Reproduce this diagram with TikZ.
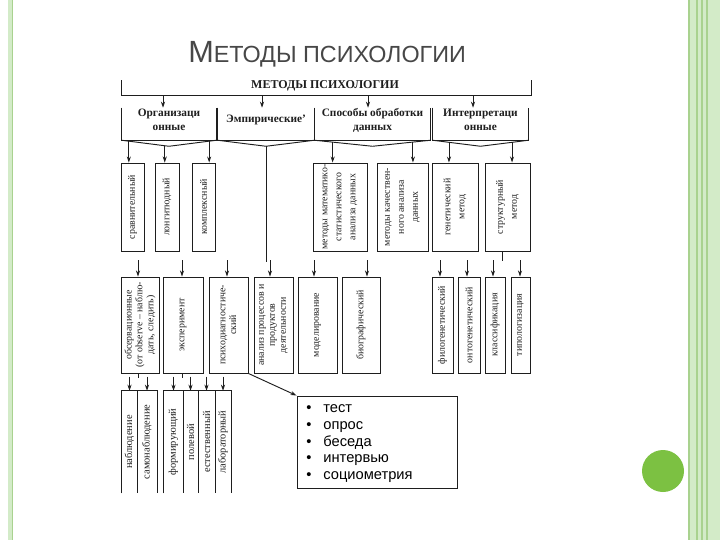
\documentclass[tikz,border=0pt]{standalone}
\usepackage{fontspec}
\setmainfont{Liberation Serif}
\newfontfamily\arialf{Liberation Sans}
\usetikzlibrary{arrows.meta,calc,fit}
\definecolor{lgreen}{HTML}{D3EBC8}
\definecolor{mgreen}{HTML}{A9D28F}
\definecolor{dot}{HTML}{7CC142}
\definecolor{ink}{HTML}{1E1E1E}
\newcommand{\rbox}[7]{\node[bx, fit={(#3,#4) (#5,#6)}, label={[#2]center:{#7}}] (#1) {};}
\newcommand{\obox}[7]{\node[fr, fit={(#3,#4) (#5,#6)}, label={[#2]center:{#7}}] (#1) {};}
\tikzset{
  ln/.style={line width=0.7pt, draw=ink},
  arr/.style={ln, -{Stealth[length=4.5pt,width=3pt]}},
  bx/.style={ln, draw, inner sep=0pt},
  fr/.style={inner sep=0pt},
  rtwo/.style={rotate=90, align=center, inner sep=0pt, text=ink, font=\fontsize{7.4}{10.5}\selectfont},
  rthr/.style={rotate=90, align=center, inner sep=0pt, text=ink, font=\fontsize{7.4}{8.2}\selectfont},
  rfour/.style={rotate=90, align=center, inner sep=0pt, text=ink, font=\fontsize{7.8}{9}\selectfont},
  cat/.style={fr, align=center, text=ink, font=\bfseries\fontsize{8.5}{8.5}\selectfont}
}
\begin{document}
\begin{tikzpicture}[x=0.75pt,y=-0.75pt]
\useasboundingbox (0,0) rectangle (720,540);
\fill[white] (0,0) rectangle (720,540);
% slide decoration
\fill[lgreen] (8,0) rectangle (12,540);
\draw[mgreen, line width=0.6pt] (12,0) -- (12,540);
\fill[lgreen] (689,0) rectangle (720,540);
\draw[mgreen, line width=0.8pt] (689,0) -- (689,540);
\draw[mgreen, line width=0.8pt] (697,0) -- (697,540);
\draw[mgreen, line width=0.8pt] (702,0) -- (702,540);
\draw[mgreen, line width=0.8pt] (707,0) -- (707,540);
\fill[dot] (663,471) circle (21);
% title
\node[anchor=base west, inner sep=0pt, text=black!72, font=\arialf] (title) at (188,62)
  {{\fontsize{23}{23}\selectfont М}{\fontsize{17.5}{17.5}\selectfont ЕТОДЫ ПСИХОЛОГИИ}};
% header
\node[text=ink, font=\bfseries\fontsize{9}{9}\selectfont, inner sep=0pt] (hdr) at (325,86) {МЕТОДЫ ПСИХОЛОГИИ};
\coordinate (hl) at (121,80);
\coordinate (hr) at (531,80);
\draw[ln] (hl) -- ++(0,15) -| (hr);
% row 1
\node[cat, fit={(122,108) (216,140)}] (r1a) {Организаци\\[2pt]онные};
\node[cat, fit={(218,108) (314,140)}] (r1b) {Эмпирические'};
\node[cat, fit={(315,108) (430,140)}] (r1c) {Способы обработки\\[2pt]данных};
\node[cat, fit={(433,108) (528,140)}] (r1d) {Интерпретаци\\[2pt]онные};
\foreach \b in {r1a,r1b,r1c,r1d}{
  \draw[ln] (\b.north west) -- (\b.south west) -- (\b.south east) -- (\b.north east);
  \coordinate (v\b) at ($(\b.south)+(0,6)$);
  \draw[ln] (\b.south west) -- (v\b) -- (\b.south east);
}
\coordinate (ha) at (163,95);
\coordinate (hb) at (262,95);
\coordinate (hc) at (368,95);
\coordinate (hd) at (473,95);
\draw[arr] (ha) -- (ha |- r1a.north);
\draw[arr] (hb) -- (hb |- r1b.north);
\draw[arr] (hc) -- (hc |- r1c.north);
\draw[arr] (hd) -- (hd |- r1d.north);
% row 2
\rbox{r2a}{rtwo}{121}{163}{144}{251}{сравнительный}
\rbox{r2b}{rtwo}{155}{163}{179}{251}{лонгитюдный}
\rbox{r2c}{rtwo}{192}{163}{215}{251}{комплексный}
\rbox{r2d}{rtwo}{313}{163}{367}{251}{методы математико-\\статистического\\анализа данных}
\rbox{r2e}{rtwo}{377}{163}{428}{251}{методы качествен-\\ного анализа\\данных}
\rbox{r2f}{rtwo}{432}{163}{478}{251}{генетический\\метод}
\rbox{r2g}{rtwo}{485}{163}{530}{251}{структурный\\метод}
\draw[arr] ($(r1a.south west)!0.15!(vr1a)$) coordinate (s1) -- (s1 |- r2a.north);
\draw[arr] ($(r1a.south west)!0.91!(vr1a)$) coordinate (s2) -- (s2 |- r2b.north);
\draw[arr] ($(r1a.south east)!0.15!(vr1a)$) coordinate (s3) -- (s3 |- r2c.north);
\draw[arr] ($(r1c.south west)!0.31!(vr1c)$) coordinate (s4) -- (s4 |- r2d.north);
\draw[arr] ($(r1c.south east)!0.30!(vr1c)$) coordinate (s5) -- (s5 |- r2e.north);
\draw[arr] ($(r1d.south west)!0.34!(vr1d)$) coordinate (s6) -- (s6 |- r2f.north);
\draw[arr] ($(r1d.south east)!0.34!(vr1d)$) coordinate (s7) -- (s7 |- r2g.north);
\coordinate (emp) at (266,262);
\draw[ln] (vr1b) -- (vr1b |- emp);
\coordinate (sg) at (502,261);
\draw[ln] (sg |- r2g.south) -- (sg);
% row 3
\rbox{r3a}{rthr}{121}{277}{159}{373}{обсервационные\\(от observe – наблю-\\дать, следить)}
\rbox{r3b}{rthr}{163}{277}{203}{373}{эксперимент}
\rbox{r3c}{rthr}{209}{277}{248}{373}{психодиагностиче-\\ский}
\rbox{r3d}{rthr}{254}{277}{293}{373}{анализ процессов и\\продуктов\\деятельности}
\rbox{r3e}{rthr}{298}{277}{337}{373}{моделирование}
\rbox{r3f}{rthr}{342}{277}{380}{373}{биографический}
\rbox{r3g}{rthr}{432}{277}{453}{373}{филогенетический}
\rbox{r3h}{rthr}{458}{277}{480}{373}{онтогенетический}
\rbox{r3i}{rthr}{485}{277}{505}{373}{классификация}
\rbox{r3j}{rthr}{511}{277}{530}{373}{типологизация}
\foreach \b/\x in {r3a/138,r3b/182,r3c/227,r3d/270,r3e/314,r3f/367,r3g/440,r3h/467,r3i/493,r3j/520}{
  \coordinate (t\b) at (\x,260);
  \draw[arr] (t\b) -- (t\b |- \b.north);
}
% row 4
\obox{r4a}{rfour}{122}{391}{137}{493}{наблюдение}
\obox{r4b}{rfour}{137}{391}{157}{493}{самонаблюдение}
\obox{r4c}{rfour}{164}{391}{183}{493}{формирующий}
\obox{r4d}{rfour}{183}{391}{198}{493}{полевой}
\obox{r4e}{rfour}{198}{391}{215}{493}{естественный}
\obox{r4f}{rfour}{215}{391}{231}{493}{лабораторный}
\draw[ln] (r4a.south west) -- (r4a.north west) -- (r4b.north east) -- (r4b.south east);
\draw[ln] (r4a.north east) -- (r4a.south east);
\draw[ln] (r4c.south west) -- (r4c.north west) -- (r4f.north east) -- (r4f.south east);
\foreach \b in {r4c,r4d,r4e}{\draw[ln] (\b.north east) -- (\b.south east);}
\coordinate (k1) at (138,378);
\coordinate (k2) at (182,378);
\draw[ln] (k1 |- r3a.south) -- (k1);
\draw[ln] (k2 |- r3b.south) -- (k2);
\foreach \b in {r4a,r4b,r4c,r4d,r4e,r4f}{
  \draw[arr] (\b.north) ++(0,-14) -- (\b.north);
}
% list box
\node[bx, fit={(297,396) (457,488)}] (tb) {};
\draw[arr] (r3c.south east) -- (tb.north west);
\node[anchor=north west, inner sep=0pt, align=left, text=black, font=\arialf\fontsize{11}{12.5}\selectfont] (tl) at (306,401)
 {\begin{tabular}{@{}l@{\hspace{9pt}}l@{}}•&тест\\•&опрос\\•&беседа\\•&интервью\\•&социометрия\end{tabular}};
\end{tikzpicture}
\end{document}
